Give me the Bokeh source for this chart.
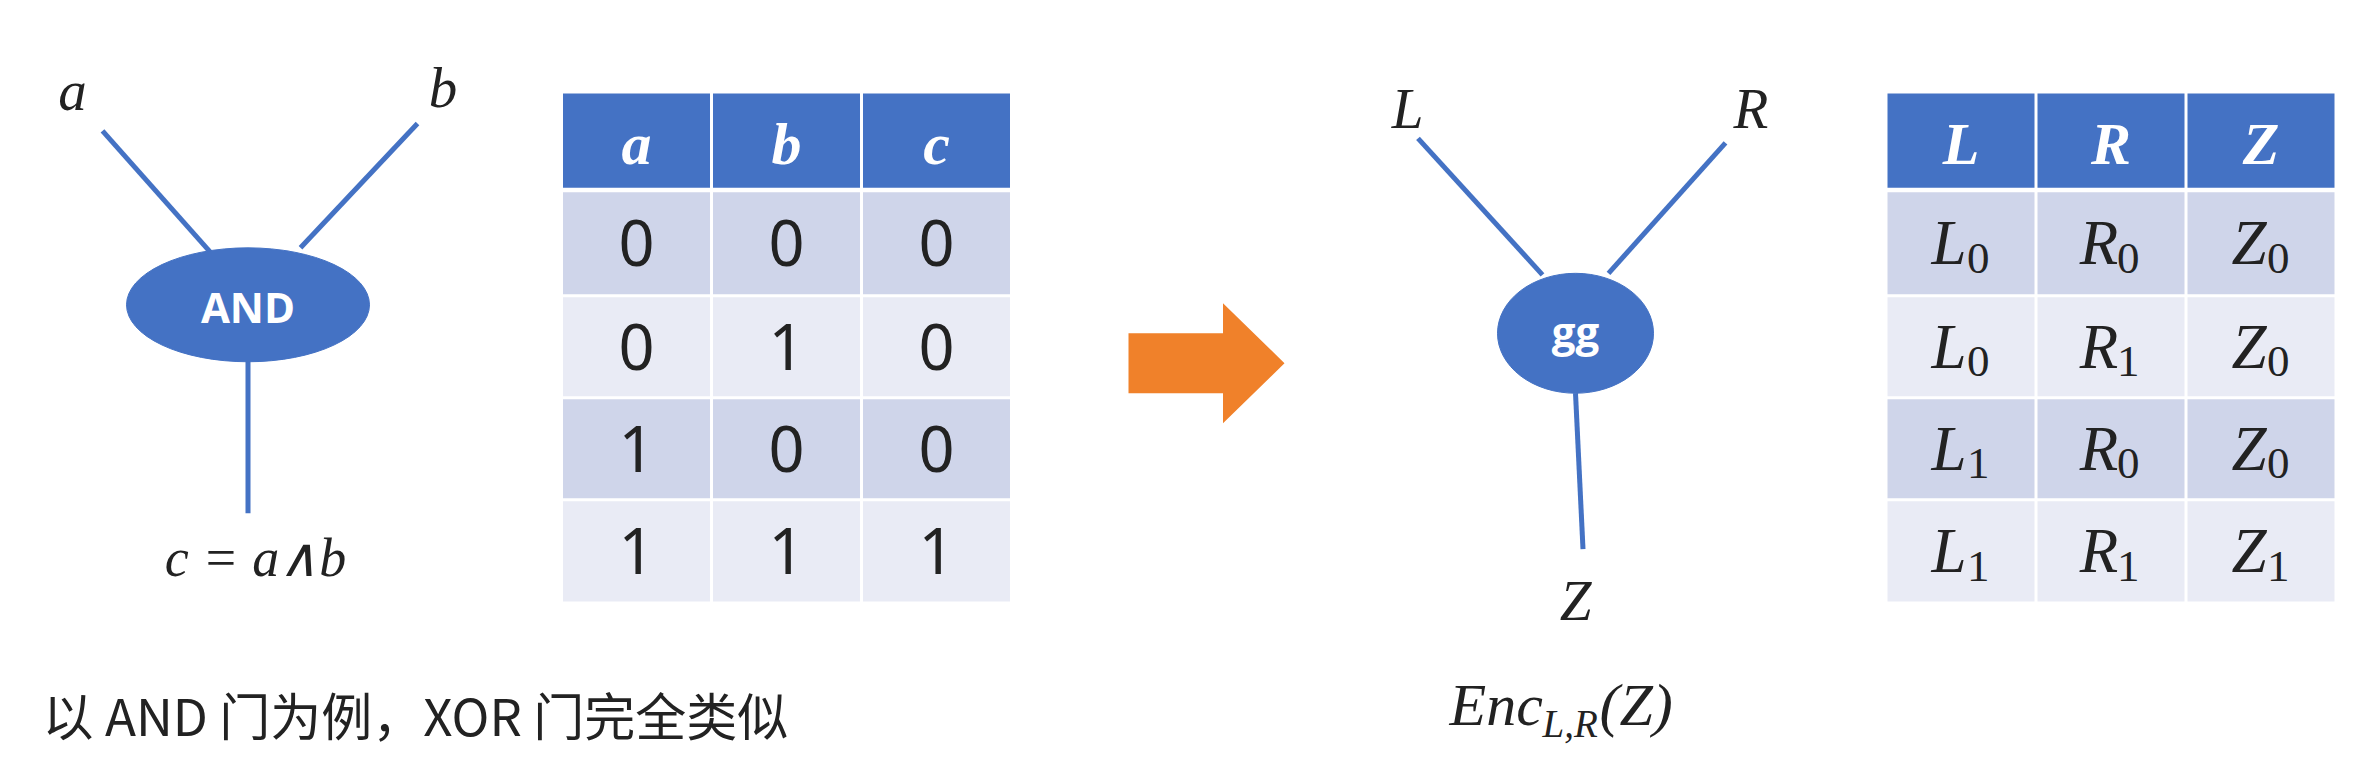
from bokeh.plotting import figure
from bokeh.models import Range1d
from bokeh.core.properties import value
from bokeh.embed import file_html
from bokeh.resources import INLINE

# truth table for AND
and_header = ["a", "b", "c"]
and_rows = [["0", "0", "0"], ["0", "1", "0"], ["1", "0", "0"], ["1", "1", "1"]]
# garbled table: (letter, subscript)
gg_header = ["L", "R", "Z"]
gg_rows = [[("L", "0"), ("R", "0"), ("Z", "0")],
           [("L", "0"), ("R", "1"), ("Z", "0")],
           [("L", "1"), ("R", "0"), ("Z", "0")],
           [("L", "1"), ("R", "1"), ("Z", "1")]]

BLUE = "#4472C4"
ROW_DARK = "#CFD5EA"
ROW_LIGHT = "#E9EBF5"
SERIF = value("Liberation Serif")
SANS = value("Noto Sans CJK SC")
S = 1.5  # px per data unit

p = figure(width=2340, height=748, output_backend="svg", toolbar_location=None,
           x_range=Range1d(0, 1560), y_range=Range1d(499, 0))
p.axis.visible = False
p.grid.visible = False
p.outline_line_color = None
p.min_border = 0


def fs(n):
    return f"{int(n * S)}px"


def table(x0, header, rows, sub):
    colw = 100
    tops = [62, 128, 198, 266, 334]
    bots = [125, 196, 264, 332, 401]
    for ci in range(3):
        cx = x0 + colw * ci + colw / 2
        p.rect(x=[cx], y=[(tops[0] + bots[0]) / 2], width=colw - 2, height=bots[0] - tops[0],
               fill_color=BLUE, line_color=None)
        p.text(x=[cx], y=[(tops[0] + bots[0]) / 2 + 2], text=[header[ci]], text_font=SERIF,
               text_font_style="bold italic", text_color="white", text_font_size=fs(40),
               text_align="center", text_baseline="middle")
        for ri, row in enumerate(rows):
            t, b = tops[ri + 1], bots[ri + 1]
            cy = (t + b) / 2
            p.rect(x=[cx], y=[cy], width=colw - 2, height=b - t,
                   fill_color=ROW_DARK if ri % 2 == 0 else ROW_LIGHT, line_color=None)
            if sub:
                letter, s = row[ci]
                p.text(x=[cx - 8], y=[cy], text=[letter], text_font=SERIF, text_font_style="italic",
                       text_font_size=fs(42), text_align="center", text_baseline="middle", text_color="#222222")
                p.text(x=[cx + 4], y=[cy + 10], text=[s], text_font=SERIF,
                       text_font_size=fs(30), text_align="left", text_baseline="middle", text_color="#222222")
            else:
                p.text(x=[cx], y=[cy], text=[row[ci]], text_font=value("Noto Sans"),
                       text_font_size=fs(42), text_align="center", text_baseline="middle", text_color="#222222")


def label(x, y, t, size=38, style="italic"):
    p.text(x=[x], y=[y], text=[t], text_font=SERIF, text_font_style=style, text_font_size=fs(size),
           text_align="center", text_baseline="middle", text_color="#222222")


# AND gate
p.segment(x0=[68, 278, 165], y0=[87, 82, 240], x1=[140, 200, 165], y1=[168, 165, 342],
          line_color=BLUE, line_width=5)
p.ellipse(x=[165], y=[203], width=162, height=76, fill_color=BLUE, line_color=BLUE)
p.text(x=[165], y=[204], text=["AND"], text_font=value("Open Sans"), text_font_style="bold",
       text_color="white", text_font_size=fs(28), text_align="center", text_baseline="middle")
label(48, 60, "a")
label(295, 58, "b")
label(170, 372, "c = a∧b", size=36)
table(374, and_header, and_rows, False)

# arrow
p.patch(x=[752, 815, 815, 856, 815, 815, 752], y=[222, 222, 202, 242, 282, 262, 262],
        fill_color="#F0812A", line_color=None)

# garbled gate
p.segment(x0=[945, 1150, 1050], y0=[92, 95, 262], x1=[1028, 1072, 1055], y1=[183, 182, 366],
          line_color=BLUE, line_width=5)
p.ellipse(x=[1050], y=[222], width=104, height=80, fill_color=BLUE, line_color=BLUE)
p.text(x=[1050], y=[220], text=["gg"], text_font=value("Open Sans"), text_font_style="bold",
       text_color="white", text_font_size=fs(28), text_align="center", text_baseline="middle")
label(938, 72, "L")
label(1167, 72, "R")
label(1050, 400, "Z")
p.text(x=[966], y=[470], text=["Enc"], text_font=SERIF, text_font_style="italic", text_font_size=fs(40),
       text_align="left", text_baseline="middle", text_color="#222222")
p.text(x=[1028], y=[482], text=["L,R"], text_font=SERIF, text_font_style="italic", text_font_size=fs(26),
       text_align="left", text_baseline="middle", text_color="#222222")
p.text(x=[1066], y=[470], text=["(Z)"], text_font=SERIF, text_font_style="italic", text_font_size=fs(40),
       text_align="left", text_baseline="middle", text_color="#222222")
table(1257, gg_header, gg_rows, True)

p.text(x=[28], y=[476], text=["以 AND 门为例，XOR 门完全类似"], text_font=SANS, text_font_size=fs(34),
       text_align="left", text_baseline="middle", text_color="#222222")

open("out.html", "w").write(file_html(p, INLINE))
